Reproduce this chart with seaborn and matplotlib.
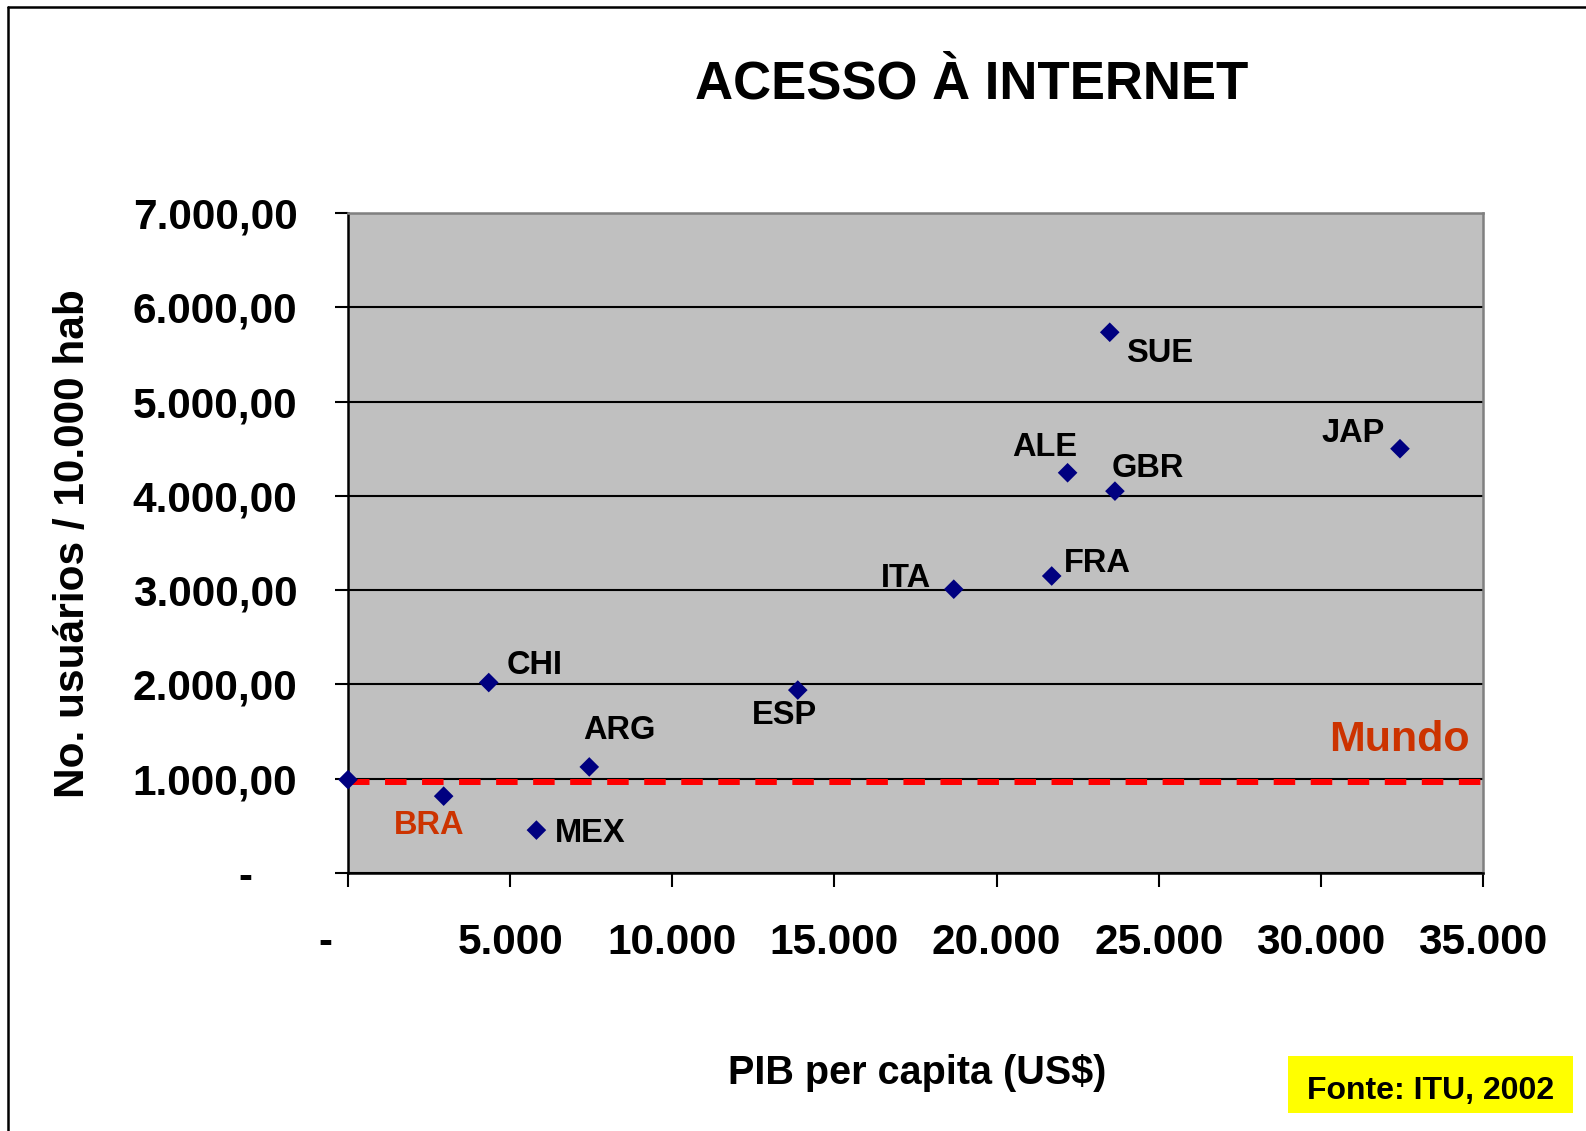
import numpy as np
import pandas as pd
import matplotlib
matplotlib.use("Agg")
import matplotlib.pyplot as plt
import seaborn as sns
from matplotlib.patches import Rectangle
from matplotlib.lines import Line2D

# Dados (ITU, 2002)
paises = ["SUE", "ALE", "GBR", "JAP", "ITA", "FRA", "CHI", "ARG", "ESP", "BRA", "MEX"]
pib = [23490, 22190, 23650, 32440, 18680, 21700, 4340, 7440, 13870, 2950, 5810]
usuarios = [5735, 4245, 4050, 4500, 3010, 3150, 2020, 1125, 1940, 815, 455]
mundo_pib = [0]
mundo_usuarios = [990]
mundo_media = 970

x_ticks = [0, 5000, 10000, 15000, 20000, 25000, 30000, 35000]
y_ticks = [0, 1000, 2000, 3000, 4000, 5000, 6000, 7000]

# label placement: (ha, dx, dy) in points
label_pos = {
    "SUE": ("left", 11.5, -13),
    "ALE": ("right", 7.2, 20.9),
    "GBR": ("left", -2.2, 18.7),
    "JAP": ("right", -10.8, 13.7),
    "ITA": ("right", -16.6, 10.1),
    "FRA": ("left", 8.6, 11.5),
    "CHI": ("left", 13, 15.1),
    "ARG": ("center", 21.6, 28.8),
    "ESP": ("center", -9.4, -15.8),
    "BRA": ("center", -10.8, -18.7),
    "MEX": ("left", 13, 0),
}

df = pd.DataFrame({"pais": paises + ["Mundo"],
                   "pib": pib + mundo_pib,
                   "usuarios": usuarios + mundo_usuarios})

sns.set_style("white")
plt.rcParams['font.family'] = ['Liberation Sans', 'DejaVu Sans']
plt.rcParams['font.weight'] = 'bold'
plt.rcParams['text.color'] = 'black'
plt.rcParams['xtick.color'] = 'black'
plt.rcParams['ytick.color'] = 'black'
plt.rcParams['axes.labelcolor'] = 'black'

W, H = 1586, 1131
fig = plt.figure(figsize=(W / 100, H / 100), dpi=100)
ax = fig.add_axes([348 / W, 1 - 873 / H, (1483 - 348) / W, (873 - 213) / H])
ax.set_facecolor('#C0C0C0')

ax.axhline(mundo_media, color='#FF0000', lw=4.3, dashes=(3.6, 2.6), zorder=3, clip_on=False)

sns.scatterplot(data=df, x='pib', y='usuarios', marker='D', color='#000080', s=100,
                edgecolor='none', ax=ax, zorder=4, clip_on=False, legend=False)

for p, xv, yv in zip(paises, pib, usuarios):
    ha, dx, dy = label_pos[p]
    cor = '#CC3300' if p == "BRA" else 'black'
    ax.annotate(p, (xv, yv), xytext=(dx, dy), textcoords='offset points',
                ha=ha, va='center_baseline', fontsize=23.5, fontweight='bold', color=cor, zorder=5)

ax.text(0.988, 0.2076, "Mundo", transform=ax.transAxes, ha='right', va='center_baseline',
        fontsize=31, fontweight='bold', color='#CC3300')

ax.set_xlim(0, 35000)
ax.set_ylim(0, 7000)
ax.set_xticks(x_ticks)
ax.set_yticks(y_ticks)


def fmt_y(v):
    if v == 0:
        return ""
    return f"{v:,.2f}".replace(",", "X").replace(".", ",").replace("X", ".")


def fmt_x(v):
    if v == 0:
        return ""
    return f"{v:,.0f}".replace(",", ".")


ax.set_yticklabels([fmt_y(v) for v in y_ticks])
ax.set_xticklabels([fmt_x(v) for v in x_ticks])
ax.tick_params(axis='y', direction='out', length=9.4, width=1.5, pad=27, labelsize=30.5, color='black')
ax.tick_params(axis='x', direction='out', length=10, width=1.5, pad=26, labelsize=30.5, color='black')
ax.tick_params(left=True, bottom=True)
for lab in ax.get_xticklabels() + ax.get_yticklabels():
    lab.set_fontweight('bold')
    lab.set_color('black')

# zero labels drawn as dashes
ax.annotate("-", (0, 0), xycoords=('axes fraction', 'data'), xytext=(-73.8, 0),
            textcoords='offset points', ha='center', va='center_baseline', fontsize=30, fontweight='bold')
ax.annotate("-", (0, 0), xycoords=('data', 'axes fraction'), xytext=(-16.2, -47.5),
            textcoords='offset points', ha='center', va='center_baseline', fontsize=30, fontweight='bold')

ax.grid(axis='y', color='black', lw=1.5)
ax.grid(axis='x', visible=False)
ax.set_axisbelow(True)
for s in ['left', 'bottom']:
    ax.spines[s].set_color('black')
    ax.spines[s].set_linewidth(1.8)
for s in ['top', 'right']:
    ax.spines[s].set_color('#808080')
    ax.spines[s].set_linewidth(1.8)
ax.set_xlabel("")
ax.set_ylabel("")

fig.text(972 / W, 1 - 79 / H, "ACESSO À INTERNET", ha='center', va='center_baseline',
         fontsize=38, fontweight='bold')
fig.text(73 / W, 1 - 544 / H, "No. usuários / 10.000 hab", rotation=90, ha='center', va='center',
         fontsize=30.5, fontweight='bold')
fig.text(917 / W, 1 - 1069 / H, "PIB per capita (US$)", ha='center', va='center_baseline',
         fontsize=28.5, fontweight='bold')

fig.patches.append(Rectangle((1288 / W, 1 - 1113 / H), (1573 - 1288) / W, (1113 - 1056) / H,
                             transform=fig.transFigure, facecolor='#FFFF00', edgecolor='none'))
fig.text(1431 / W, 1 - 1087 / H, "Fonte: ITU, 2002", ha='center', va='center_baseline',
         fontsize=23, fontweight='bold')

fig.lines.append(Line2D([8 / W, 1], [1 - 7 / H, 1 - 7 / H], transform=fig.transFigure, color='black', lw=1.8))
fig.lines.append(Line2D([8 / W, 8 / W], [0, 1 - 7 / H], transform=fig.transFigure, color='black', lw=1.8))

fig.savefig('out.png', dpi=100)
